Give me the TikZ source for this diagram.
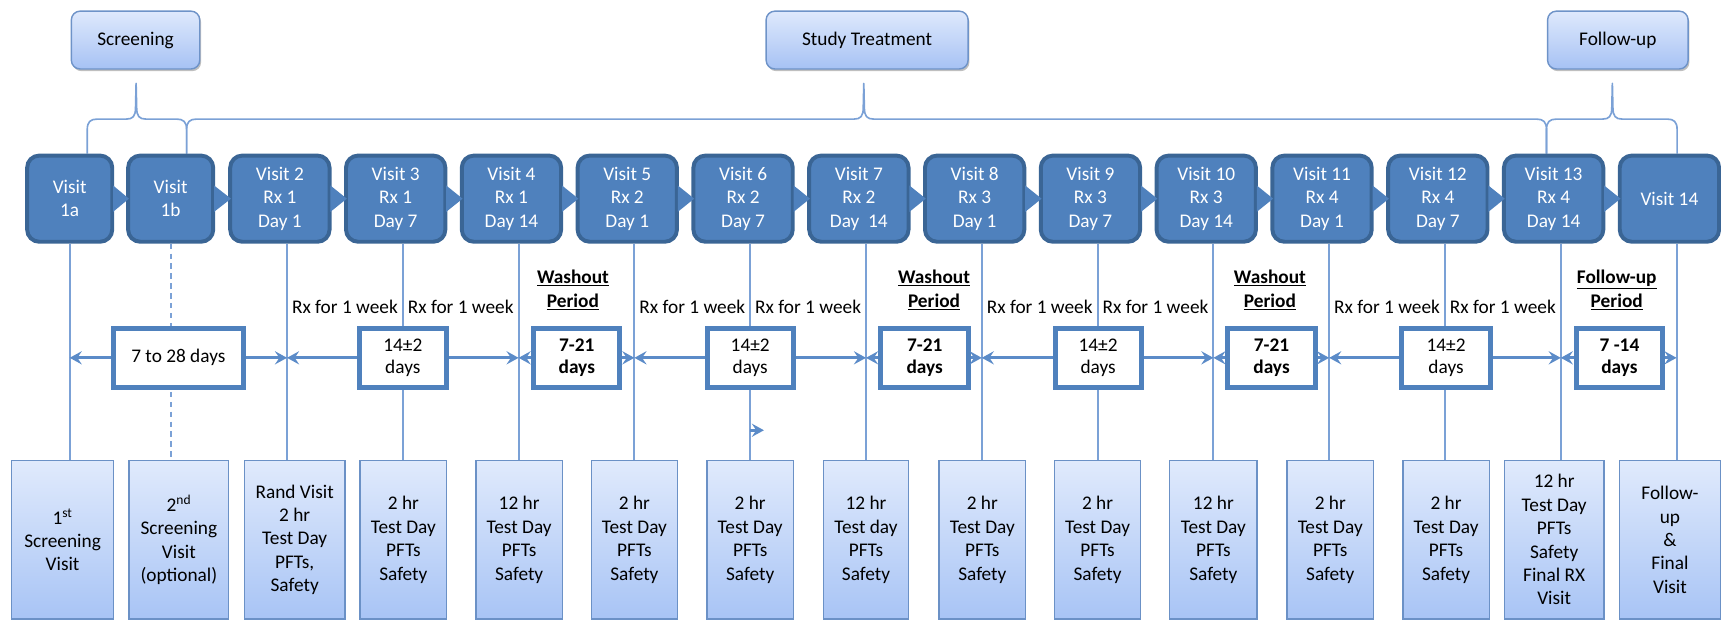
\documentclass[tikz,border=0pt]{standalone}
\usepackage{fontspec}
\setmainfont{Carlito}
\usetikzlibrary{arrows.meta,shadows,calc}
\definecolor{vfill}{HTML}{4F81BD}
\definecolor{vdraw}{HTML}{3A6595}
\definecolor{lineblue}{HTML}{7BA1D6}
\definecolor{arrblue}{HTML}{5B8BC8}
\definecolor{hdtop}{HTML}{DFE9FC}
\definecolor{hdbot}{HTML}{A6C2F4}
\definecolor{hddraw}{HTML}{6E93C8}
\definecolor{btop}{HTML}{E0EAFC}
\definecolor{bbot}{HTML}{A8C4F5}
\definecolor{bdraw}{HTML}{6B91C6}
\definecolor{ivdraw}{HTML}{4F81BD}
\begin{document}
\begin{tikzpicture}[x=1pt,y=-1pt,
  every node/.style={inner sep=0pt, align=center, font=\fontsize{17.6}{21.3}\selectfont},
  hdr/.style={draw=hddraw, line width=1.3pt, rounded corners=8pt, top color=hdtop, bottom color=hdbot,
    minimum width=#1, minimum height=52.7pt,
    drop shadow={shadow xshift=1.2pt, shadow yshift=-2pt, opacity=.25, fill=black}},
  vbox/.style={draw=vdraw, fill=vfill, line width=3.6pt, rounded corners=11pt, text=white,
    minimum width=#1, minimum height=78.5pt},
  bbox/.style={draw=bdraw, line width=1.3pt, top color=btop, bottom color=bbot,
    minimum width=#1, minimum height=144.2pt},
  ivbox/.style={draw=ivdraw, fill=white, line width=4.5pt, minimum width=#1, minimum height=53.5pt,
    font=\fontsize{17.6}{20}\selectfont},
  wbox/.style={ivbox=#1, font=\fontsize{17.6}{20}\selectfont\bfseries},
  vline/.style={draw=lineblue, line width=1.8pt},
  brace/.style={draw=lineblue, line width=1.5pt, line join=round},
  harr/.style={draw=arrblue, line width=2.5pt, -{Stealth[length=11pt,width=12pt,inset=4pt]}},
  chev/.style={fill=vfill},
  wlbl/.style={font=\fontsize{17.6}{22}\selectfont\bfseries}
]
\useasboundingbox (0,0) rectangle (1568,566);

% header boxes
\node[hdr=117] (hs) at (123.5,36.5) {Screening};
\node[hdr=184] (ht) at (790,36.5) {Study Treatment};
\node[hdr=128] (hf) at (1474,36.5) {Follow-up};

% braces
\newcommand\mybrace[3]{%
\draw[brace] (#1,140) -- (#1,118) .. controls (#1,111) and (#1+3,108.5) .. (#1+9,108.5)
  -- (#2-9,108.5) .. controls (#2-3,108.5) and (#2-0.5,106) .. (#2-0.5,98) -- (#2,76)
  -- (#2+0.5,98) .. controls (#2+0.5,106) and (#2+3,108.5) .. (#2+9,108.5)
  -- (#3-9,108.5) .. controls (#3-3,108.5) and (#3,111) .. (#3,118) -- (#3,140);}
\mybrace{79.5}{124}{170}
\mybrace{170}{787}{1409}
\mybrace{1409}{1469}{1528}

% top visit boxes
\node[vbox=77.5] (v1a) at (63.5,181) {Visit\\1a};
\node[vbox=77.5] (v1b) at (155.5,181) {Visit\\1b};
\node[vbox=90.5] (v2) at (255,181) {Visit 2\\Rx 1\\Day 1};
\node[vbox=90.5] (v3) at (360.5,181) {Visit 3\\Rx 1\\Day 7};
\node[vbox=90.5] (v4) at (466,181) {Visit 4\\Rx 1\\Day 14};
\node[vbox=90.5] (v5) at (571.5,181) {Visit 5\\Rx 2\\Day 1};
\node[vbox=90.5] (v6) at (677,181) {Visit 6\\Rx 2\\Day 7};
\node[vbox=90.5] (v7) at (782.5,181) {Visit 7\\Rx 2\\Day\ \ 14};
\node[vbox=90.5] (v8) at (888,181) {Visit 8\\Rx 3\\Day 1};
\node[vbox=90.5] (v9) at (993.5,181) {Visit 9\\Rx 3\\Day 7};
\node[vbox=90.5] (v10) at (1099,181) {Visit 10\\Rx 3\\Day 14};
\node[vbox=90.5] (v11) at (1204.5,181) {Visit 11\\Rx 4\\Day 1};
\node[vbox=90.5] (v12) at (1310,181) {Visit 12\\Rx 4\\Day 7};
\node[vbox=90.5] (v13) at (1415.5,181) {Visit 13\\Rx 4\\Day 14};
\node[vbox=90.5] (v14) at (1521,181) {Visit 14};

% chevrons between visit boxes
\foreach \a/\b in {v1a/v1b,v1b/v2,v2/v3,v3/v4,v4/v5,v5/v6,v6/v7,v7/v8,v8/v9,v9/v10,v10/v11,v11/v12,v12/v13,v13/v14}
  \fill[chev] ($(\a.east)+(-1,-12)$) -- ($(\a.east)+(-1,12)$) -- ($(\b.west)+(2.5,0)$) -- cycle;

% line coordinates
\coordinate (L1a) at (v1a.south);
\coordinate (L1b) at (v1b.south);
\foreach \k in {2,...,14} \coordinate (L\k) at ([xshift=6.5pt]v\k.south);

% bottom boxes
\node[bbox=92.7] (b1) at (57,491.8) {1\textsuperscript{st}\\Screening\\Visit};
\node[bbox=90.7] (b2) at (163,491.8) {2\textsuperscript{nd}\\Screening\\Visit\\(optional)};
\node[bbox=91.7] (b3) at (268.5,491.8) {Rand Visit\\2 hr\\Test Day\\PFTs,\\Safety};
\node[bbox=78.7] (b4) at (367.5,491.8) {2 hr\\Test Day\\PFTs\\Safety};
\node[bbox=78.7] (b5) at (473,491.8) {12 hr\\Test Day\\PFTs\\Safety};
\node[bbox=78.7] (b6) at (578,491.8) {2 hr\\Test Day\\PFTs\\Safety};
\node[bbox=78.7] (b7) at (683.5,491.8) {2 hr\\Test Day\\PFTs\\Safety};
\node[bbox=77.7] (b8) at (789,491.8) {12 hr\\Test day\\PFTs\\Safety};
\node[bbox=78.7] (b9) at (895,491.8) {2 hr\\Test Day\\PFTs\\Safety};
\node[bbox=78.7] (b10) at (1000,491.8) {2 hr\\Test Day\\PFTs\\Safety};
\node[bbox=79.7] (b11) at (1105.5,491.8) {12 hr\\Test Day\\PFTs\\Safety};
\node[bbox=78.7] (b12) at (1212,491.8) {2 hr\\Test Day\\PFTs\\Safety};
\node[bbox=78.7] (b13) at (1317.5,491.8) {2 hr\\Test Day\\PFTs\\Safety};
\node[bbox=90.7] (b14) at (1416,491.8) {12 hr\\Test Day\\PFTs\\Safety\\Final RX\\Visit};
\node[bbox=91.7] (b15) at (1521.5,491.8) {Follow-\\up\\\&\\Final\\Visit};

% vertical lines
\draw[vline] (L1a) -- (L1a |- b1.north);
\draw[vline, dash pattern=on 5pt off 4pt] (L1b) -- (L1b |- b2.north);
\foreach \k [evaluate=\k as \j using int(\k+1)] in {2,...,14}
  \draw[vline] (L\k) -- (L\k |- b\j.north);

% interval boxes
\node[ivbox=118.5] (iv0) at (162.5,326) {7 to 28 days};
\node[ivbox=79.5] (iv1) at (367,326) {14±2\\days};
\node[wbox=78.5] (w1) at (525.5,326) {7-21\\days};
\node[ivbox=78.5] (iv2) at (683.5,326) {14±2\\days};
\node[wbox=80.5] (w2) at (842.5,326) {7-21\\days};
\node[ivbox=78.5] (iv3) at (1000.5,326) {14±2\\days};
\node[wbox=80.5] (w3) at (1158.5,326) {7-21\\days};
\node[ivbox=80.5] (iv4) at (1317.5,326) {14±2\\days};
\node[wbox=78.5] (fu) at (1475.5,326) {7 -14\\days};

% interval arrows
\draw[harr] (iv0.west) -- (L1a |- iv0.west);
\draw[harr] (iv0.east) -- (L2 |- iv0.east);
\draw[harr] (iv1.west) -- (L2 |- iv1.west);
\draw[harr] (iv1.east) -- (L4 |- iv1.east);
\draw[harr] (w1.west) -- (L4 |- w1.west);
\draw[harr] (w1.east) -- (L5 |- w1.east);
\draw[harr] (iv2.west) -- (L5 |- iv2.west);
\draw[harr] (iv2.east) -- (L7 |- iv2.east);
\draw[harr] (w2.west) -- (L7 |- w2.west);
\draw[harr] (w2.east) -- (L8 |- w2.east);
\draw[harr] (iv3.west) -- (L8 |- iv3.west);
\draw[harr] (iv3.east) -- (L10 |- iv3.east);
\draw[harr] (w3.west) -- (L10 |- w3.west);
\draw[harr] (w3.east) -- (L11 |- w3.east);
\draw[harr] (iv4.west) -- (L11 |- iv4.west);
\draw[harr] (iv4.east) -- (L13 |- iv4.east);
\draw[harr] (fu.west) -- (L13 |- fu.west);
\draw[harr] (fu.east) -- (L14 |- fu.east);

% stray arrowhead on visit 6 line
\coordinate (st6) at (696,392);
\draw[harr] (L6 |- st6) -- (st6);

% labels
\node (r1a) at (314.25,280) {Rx for 1 week};
\node (r1b) at (419.75,280) {Rx for 1 week};
\node (r2a) at (630.75,280) {Rx for 1 week};
\node (r2b) at (736.25,280) {Rx for 1 week};
\node (r3a) at (947.25,280) {Rx for 1 week};
\node (r3b) at (1052.75,280) {Rx for 1 week};
\node (r4a) at (1263.75,280) {Rx for 1 week};
\node (r4b) at (1369.25,280) {Rx for 1 week};
\node[wlbl] (wl1) at (522,264) {\underline{Washout}\\\underline{Period}};
\node[wlbl] (wl2) at (851,264) {\underline{Washout}\\\underline{Period}};
\node[wlbl] (wl3) at (1157,264) {\underline{Washout}\\\underline{Period}};
\node[wlbl] (fl) at (1473,264) {\underline{Follow-up}\\\underline{Period}};
\end{tikzpicture}
\end{document}
